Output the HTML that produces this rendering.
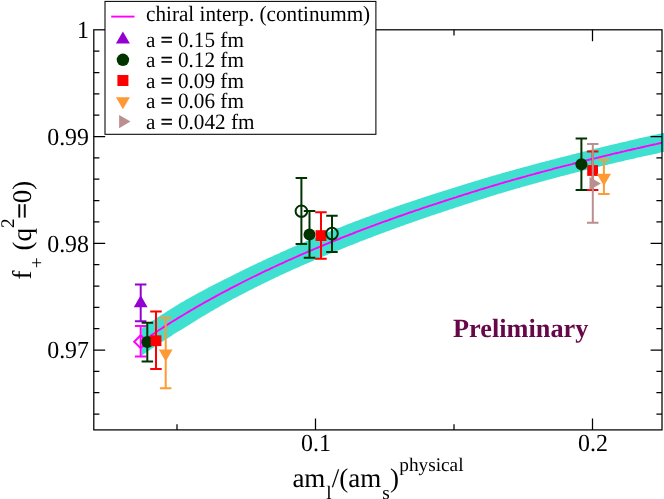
<!DOCTYPE html>
<html><head><meta charset="utf-8"><title>chart</title>
<style>html,body{margin:0;padding:0;background:#fff;}body{width:664px;height:499px;position:relative;overflow:hidden;font-family:"Liberation Serif",serif;}</style>
</head><body><div style="position:absolute;left:0;top:0;width:664px;height:499px;will-change:transform">
<svg width="664" height="499" viewBox="0 0 664 499" style="position:absolute;left:0;top:0">
<rect x="0" y="0" width="664" height="499" fill="#fff"/>
<defs><clipPath id="pc"><rect x="93.8" y="29.8" width="568.2" height="400.1"/></clipPath></defs>
<path d="M141.90 327.53 L141.90 327.53 L143.10 327.53 L143.10 326.70 L144.30 326.70 L144.30 325.88 L145.50 325.88 L145.50 325.06 L146.70 325.06 L146.70 324.24 L147.90 324.24 L147.90 323.43 L149.10 323.43 L149.10 322.62 L150.30 322.62 L150.30 321.82 L151.50 321.82 L151.50 321.02 L152.70 321.02 L152.70 320.22 L153.90 320.22 L153.90 319.43 L155.10 319.43 L155.10 318.64 L156.30 318.64 L156.30 317.85 L157.50 317.85 L157.50 317.07 L158.70 317.07 L158.70 316.29 L159.90 316.29 L159.90 315.52 L161.10 315.52 L161.10 314.75 L162.30 314.75 L162.30 313.98 L163.50 313.98 L163.50 313.21 L164.70 313.21 L164.70 312.45 L165.90 312.45 L165.90 311.69 L167.10 311.69 L167.10 310.94 L168.30 310.94 L168.30 310.18 L169.50 310.18 L169.50 309.43 L170.70 309.43 L170.70 308.69 L171.90 308.69 L171.90 307.95 L173.10 307.95 L173.10 307.21 L174.30 307.21 L174.30 306.47 L175.50 306.47 L175.50 305.74 L176.70 305.74 L176.70 305.00 L177.90 305.00 L177.90 304.28 L179.10 304.28 L179.10 303.55 L180.30 303.55 L180.30 302.83 L181.50 302.83 L181.50 302.11 L182.70 302.11 L182.70 301.40 L183.90 301.40 L183.90 300.68 L185.10 300.68 L185.10 299.99 L186.30 299.99 L186.30 299.31 L187.50 299.31 L187.50 298.64 L188.70 298.64 L188.70 297.97 L189.90 297.97 L189.90 297.30 L191.10 297.30 L191.10 296.64 L192.30 296.64 L192.30 295.97 L193.50 295.97 L193.50 295.31 L194.70 295.31 L194.70 294.66 L195.90 294.66 L195.90 294.00 L197.10 294.00 L197.10 293.35 L198.30 293.35 L198.30 292.70 L199.50 292.70 L199.50 292.05 L200.70 292.05 L200.70 291.41 L201.90 291.41 L201.90 290.77 L203.10 290.77 L203.10 290.13 L204.30 290.13 L204.30 289.49 L205.50 289.49 L205.50 288.86 L206.70 288.86 L206.70 288.22 L207.90 288.22 L207.90 287.59 L209.10 287.59 L209.10 286.97 L210.30 286.97 L210.30 286.34 L211.50 286.34 L211.50 285.72 L212.70 285.72 L212.70 285.10 L213.90 285.10 L213.90 284.48 L215.10 284.48 L215.10 283.87 L216.30 283.87 L216.30 283.25 L217.50 283.25 L217.50 282.64 L218.70 282.64 L218.70 282.03 L219.90 282.03 L219.90 281.43 L221.10 281.43 L221.10 280.82 L222.30 280.82 L222.30 280.22 L223.50 280.22 L223.50 279.62 L224.70 279.62 L224.70 279.02 L225.90 279.02 L225.90 278.43 L227.10 278.43 L227.10 277.83 L228.30 277.83 L228.30 277.24 L229.50 277.24 L229.50 276.65 L230.70 276.65 L230.70 276.04 L231.90 276.04 L231.90 275.43 L233.10 275.43 L233.10 274.82 L234.30 274.82 L234.30 274.22 L235.50 274.22 L235.50 273.61 L236.70 273.61 L236.70 273.01 L237.90 273.01 L237.90 272.41 L239.10 272.41 L239.10 271.81 L240.30 271.81 L240.30 271.22 L241.50 271.22 L241.50 270.63 L242.70 270.63 L242.70 270.03 L243.90 270.03 L243.90 269.44 L245.10 269.44 L245.10 268.86 L246.30 268.86 L246.30 268.27 L247.50 268.27 L247.50 267.69 L248.70 267.69 L248.70 267.11 L249.90 267.11 L249.90 266.53 L251.10 266.53 L251.10 265.95 L252.30 265.95 L252.30 265.37 L253.50 265.37 L253.50 264.80 L254.70 264.80 L254.70 264.23 L255.90 264.23 L255.90 263.66 L257.10 263.66 L257.10 263.09 L258.30 263.09 L258.30 262.52 L259.50 262.52 L259.50 261.95 L260.70 261.95 L260.70 261.39 L261.90 261.39 L261.90 260.83 L263.10 260.83 L263.10 260.27 L264.30 260.27 L264.30 259.71 L265.50 259.71 L265.50 259.16 L266.70 259.16 L266.70 258.60 L267.90 258.60 L267.90 258.05 L269.10 258.05 L269.10 257.50 L270.30 257.50 L270.30 256.95 L271.50 256.95 L271.50 256.40 L272.70 256.40 L272.70 255.85 L273.90 255.85 L273.90 255.31 L275.10 255.31 L275.10 254.77 L276.30 254.77 L276.30 254.23 L277.50 254.23 L277.50 253.69 L278.70 253.69 L278.70 253.15 L279.90 253.15 L279.90 252.61 L281.10 252.61 L281.10 252.06 L282.30 252.06 L282.30 251.52 L283.50 251.52 L283.50 250.98 L284.70 250.98 L284.70 250.44 L285.90 250.44 L285.90 249.90 L287.10 249.90 L287.10 249.36 L288.30 249.36 L288.30 248.82 L289.50 248.82 L289.50 248.29 L290.70 248.29 L290.70 247.76 L291.90 247.76 L291.90 247.22 L293.10 247.22 L293.10 246.69 L294.30 246.69 L294.30 246.17 L295.50 246.17 L295.50 245.64 L296.70 245.64 L296.70 245.11 L297.90 245.11 L297.90 244.59 L299.10 244.59 L299.10 244.07 L300.30 244.07 L300.30 243.55 L301.50 243.55 L301.50 243.03 L302.70 243.03 L302.70 242.51 L303.90 242.51 L303.90 241.99 L305.10 241.99 L305.10 241.48 L306.30 241.48 L306.30 240.96 L307.50 240.96 L307.50 240.45 L308.70 240.45 L308.70 239.94 L309.90 239.94 L309.90 239.43 L311.10 239.43 L311.10 238.92 L312.30 238.92 L312.30 238.42 L313.50 238.42 L313.50 237.91 L314.70 237.91 L314.70 237.41 L315.90 237.41 L315.90 236.91 L317.10 236.91 L317.10 236.41 L318.30 236.41 L318.30 235.91 L319.50 235.91 L319.50 235.41 L320.70 235.41 L320.70 234.91 L321.90 234.91 L321.90 234.42 L323.10 234.42 L323.10 233.92 L324.30 233.92 L324.30 233.43 L325.50 233.43 L325.50 232.94 L326.70 232.94 L326.70 232.45 L327.90 232.45 L327.90 231.96 L329.10 231.96 L329.10 231.48 L330.30 231.48 L330.30 230.99 L331.50 230.99 L331.50 230.51 L332.70 230.51 L332.70 230.02 L333.90 230.02 L333.90 229.54 L335.10 229.54 L335.10 229.06 L336.30 229.06 L336.30 228.58 L337.50 228.58 L337.50 228.10 L338.70 228.10 L338.70 227.63 L339.90 227.63 L339.90 227.15 L341.10 227.15 L341.10 226.68 L342.30 226.68 L342.30 226.20 L343.50 226.20 L343.50 225.73 L344.70 225.73 L344.70 225.26 L345.90 225.26 L345.90 224.79 L347.10 224.79 L347.10 224.32 L348.30 224.32 L348.30 223.86 L349.50 223.86 L349.50 223.39 L350.70 223.39 L350.70 222.93 L351.90 222.93 L351.90 222.48 L353.10 222.48 L353.10 222.02 L354.30 222.02 L354.30 221.56 L355.50 221.56 L355.50 221.11 L356.70 221.11 L356.70 220.66 L357.90 220.66 L357.90 220.20 L359.10 220.20 L359.10 219.75 L360.30 219.75 L360.30 219.30 L361.50 219.30 L361.50 218.86 L362.70 218.86 L362.70 218.41 L363.90 218.41 L363.90 217.96 L365.10 217.96 L365.10 217.52 L366.30 217.52 L366.30 217.07 L367.50 217.07 L367.50 216.63 L368.70 216.63 L368.70 216.19 L369.90 216.19 L369.90 215.75 L371.10 215.75 L371.10 215.31 L372.30 215.31 L372.30 214.87 L373.50 214.87 L373.50 214.44 L374.70 214.44 L374.70 214.00 L375.90 214.00 L375.90 213.57 L377.10 213.57 L377.10 213.13 L378.30 213.13 L378.30 212.70 L379.50 212.70 L379.50 212.27 L380.70 212.27 L380.70 211.84 L381.90 211.84 L381.90 211.41 L383.10 211.41 L383.10 210.98 L384.30 210.98 L384.30 210.56 L385.50 210.56 L385.50 210.13 L386.70 210.13 L386.70 209.70 L387.90 209.70 L387.90 209.28 L389.10 209.28 L389.10 208.86 L390.30 208.86 L390.30 208.44 L391.50 208.44 L391.50 208.02 L392.70 208.02 L392.70 207.60 L393.90 207.60 L393.90 207.18 L395.10 207.18 L395.10 206.76 L396.30 206.76 L396.30 206.35 L397.50 206.35 L397.50 205.93 L398.70 205.93 L398.70 205.52 L399.90 205.52 L399.90 205.10 L401.10 205.10 L401.10 204.69 L402.30 204.69 L402.30 204.28 L403.50 204.28 L403.50 203.87 L404.70 203.87 L404.70 203.46 L405.90 203.46 L405.90 203.05 L407.10 203.05 L407.10 202.65 L408.30 202.65 L408.30 202.24 L409.50 202.24 L409.50 201.83 L410.70 201.83 L410.70 201.43 L411.90 201.43 L411.90 201.03 L413.10 201.03 L413.10 200.63 L414.30 200.63 L414.30 200.22 L415.50 200.22 L415.50 199.82 L416.70 199.82 L416.70 199.43 L417.90 199.43 L417.90 199.03 L419.10 199.03 L419.10 198.63 L420.30 198.63 L420.30 198.24 L421.50 198.24 L421.50 197.84 L422.70 197.84 L422.70 197.45 L423.90 197.45 L423.90 197.06 L425.10 197.06 L425.10 196.66 L426.30 196.66 L426.30 196.27 L427.50 196.27 L427.50 195.89 L428.70 195.89 L428.70 195.50 L429.90 195.50 L429.90 195.11 L431.10 195.11 L431.10 194.72 L432.30 194.72 L432.30 194.34 L433.50 194.34 L433.50 193.95 L434.70 193.95 L434.70 193.57 L435.90 193.57 L435.90 193.19 L437.10 193.19 L437.10 192.80 L438.30 192.80 L438.30 192.42 L439.50 192.42 L439.50 192.04 L440.70 192.04 L440.70 191.66 L441.90 191.66 L441.90 191.29 L443.10 191.29 L443.10 190.91 L444.30 190.91 L444.30 190.53 L445.50 190.53 L445.50 190.16 L446.70 190.16 L446.70 189.78 L447.90 189.78 L447.90 189.41 L449.10 189.41 L449.10 189.04 L450.30 189.04 L450.30 188.66 L451.50 188.66 L451.50 188.28 L452.70 188.28 L452.70 187.90 L453.90 187.90 L453.90 187.52 L455.10 187.52 L455.10 187.14 L456.30 187.14 L456.30 186.77 L457.50 186.77 L457.50 186.39 L458.70 186.39 L458.70 186.02 L459.90 186.02 L459.90 185.64 L461.10 185.64 L461.10 185.27 L462.30 185.27 L462.30 184.90 L463.50 184.90 L463.50 184.53 L464.70 184.53 L464.70 184.16 L465.90 184.16 L465.90 183.79 L467.10 183.79 L467.10 183.42 L468.30 183.42 L468.30 183.05 L469.50 183.05 L469.50 182.69 L470.70 182.69 L470.70 182.32 L471.90 182.32 L471.90 181.96 L473.10 181.96 L473.10 181.59 L474.30 181.59 L474.30 181.23 L475.50 181.23 L475.50 180.87 L476.70 180.87 L476.70 180.50 L477.90 180.50 L477.90 180.14 L479.10 180.14 L479.10 179.78 L480.30 179.78 L480.30 179.42 L481.50 179.42 L481.50 179.06 L482.70 179.06 L482.70 178.71 L483.90 178.71 L483.90 178.35 L485.10 178.35 L485.10 177.99 L486.30 177.99 L486.30 177.64 L487.50 177.64 L487.50 177.28 L488.70 177.28 L488.70 176.93 L489.90 176.93 L489.90 176.58 L491.10 176.58 L491.10 176.22 L492.30 176.22 L492.30 175.87 L493.50 175.87 L493.50 175.52 L494.70 175.52 L494.70 175.17 L495.90 175.17 L495.90 174.82 L497.10 174.82 L497.10 174.48 L498.30 174.48 L498.30 174.13 L499.50 174.13 L499.50 173.78 L500.70 173.78 L500.70 173.44 L501.90 173.44 L501.90 173.10 L503.10 173.10 L503.10 172.76 L504.30 172.76 L504.30 172.42 L505.50 172.42 L505.50 172.08 L506.70 172.08 L506.70 171.75 L507.90 171.75 L507.90 171.41 L509.10 171.41 L509.10 171.07 L510.30 171.07 L510.30 170.74 L511.50 170.74 L511.50 170.41 L512.70 170.41 L512.70 170.07 L513.90 170.07 L513.90 169.74 L515.10 169.74 L515.10 169.41 L516.30 169.41 L516.30 169.08 L517.50 169.08 L517.50 168.75 L518.70 168.75 L518.70 168.42 L519.90 168.42 L519.90 168.09 L521.10 168.09 L521.10 167.76 L522.30 167.76 L522.30 167.43 L523.50 167.43 L523.50 167.10 L524.70 167.10 L524.70 166.78 L525.90 166.78 L525.90 166.45 L527.10 166.45 L527.10 166.13 L528.30 166.13 L528.30 165.80 L529.50 165.80 L529.50 165.48 L530.70 165.48 L530.70 165.16 L531.90 165.16 L531.90 164.84 L533.10 164.84 L533.10 164.52 L534.30 164.52 L534.30 164.19 L535.50 164.19 L535.50 163.87 L536.70 163.87 L536.70 163.56 L537.90 163.56 L537.90 163.24 L539.10 163.24 L539.10 162.92 L540.30 162.92 L540.30 162.60 L541.50 162.60 L541.50 162.29 L542.70 162.29 L542.70 161.97 L543.90 161.97 L543.90 161.66 L545.10 161.66 L545.10 161.34 L546.30 161.34 L546.30 161.03 L547.50 161.03 L547.50 160.72 L548.70 160.72 L548.70 160.40 L549.90 160.40 L549.90 160.09 L551.10 160.09 L551.10 159.78 L552.30 159.78 L552.30 159.47 L553.50 159.47 L553.50 159.16 L554.70 159.16 L554.70 158.85 L555.90 158.85 L555.90 158.55 L557.10 158.55 L557.10 158.24 L558.30 158.24 L558.30 157.93 L559.50 157.93 L559.50 157.62 L560.70 157.62 L560.70 157.31 L561.90 157.31 L561.90 157.00 L563.10 157.00 L563.10 156.69 L564.30 156.69 L564.30 156.38 L565.50 156.38 L565.50 156.07 L566.70 156.07 L566.70 155.76 L567.90 155.76 L567.90 155.46 L569.10 155.46 L569.10 155.15 L570.30 155.15 L570.30 154.84 L571.50 154.84 L571.50 154.54 L572.70 154.54 L572.70 154.23 L573.90 154.23 L573.90 153.93 L575.10 153.93 L575.10 153.63 L576.30 153.63 L576.30 153.32 L577.50 153.32 L577.50 153.02 L578.70 153.02 L578.70 152.72 L579.90 152.72 L579.90 152.42 L581.10 152.42 L581.10 152.12 L582.30 152.12 L582.30 151.82 L583.50 151.82 L583.50 151.52 L584.70 151.52 L584.70 151.22 L585.90 151.22 L585.90 150.92 L587.10 150.92 L587.10 150.62 L588.30 150.62 L588.30 150.33 L589.50 150.33 L589.50 150.03 L590.70 150.03 L590.70 149.73 L591.90 149.73 L591.90 149.44 L593.10 149.44 L593.10 149.14 L594.30 149.14 L594.30 148.85 L595.50 148.85 L595.50 148.56 L596.70 148.56 L596.70 148.26 L597.90 148.26 L597.90 147.97 L599.10 147.97 L599.10 147.68 L600.30 147.68 L600.30 147.39 L601.50 147.39 L601.50 147.10 L602.70 147.10 L602.70 146.81 L603.90 146.81 L603.90 146.52 L605.10 146.52 L605.10 146.23 L606.30 146.23 L606.30 145.95 L607.50 145.95 L607.50 145.66 L608.70 145.66 L608.70 145.37 L609.90 145.37 L609.90 145.09 L611.10 145.09 L611.10 144.80 L612.30 144.80 L612.30 144.52 L613.50 144.52 L613.50 144.23 L614.70 144.23 L614.70 143.95 L615.90 143.95 L615.90 143.66 L617.10 143.66 L617.10 143.38 L618.30 143.38 L618.30 143.10 L619.50 143.10 L619.50 142.82 L620.70 142.82 L620.70 142.54 L621.90 142.54 L621.90 142.26 L623.10 142.26 L623.10 141.98 L624.30 141.98 L624.30 141.70 L625.50 141.70 L625.50 141.42 L626.70 141.42 L626.70 141.14 L627.90 141.14 L627.90 140.87 L629.10 140.87 L629.10 140.58 L630.30 140.58 L630.30 140.30 L631.50 140.30 L631.50 140.02 L632.70 140.02 L632.70 139.74 L633.90 139.74 L633.90 139.46 L635.10 139.46 L635.10 139.18 L636.30 139.18 L636.30 138.90 L637.50 138.90 L637.50 138.62 L638.70 138.62 L638.70 138.34 L639.90 138.34 L639.90 138.06 L641.10 138.06 L641.10 137.79 L642.30 137.79 L642.30 137.51 L643.50 137.51 L643.50 137.23 L644.70 137.23 L644.70 136.96 L645.90 136.96 L645.90 136.68 L647.10 136.68 L647.10 136.41 L648.30 136.41 L648.30 136.14 L649.50 136.14 L649.50 135.86 L650.70 135.86 L650.70 135.59 L651.90 135.59 L651.90 135.32 L653.10 135.32 L653.10 135.04 L654.30 135.04 L654.30 134.77 L655.50 134.77 L655.50 134.50 L656.70 134.50 L656.70 134.23 L657.90 134.23 L657.90 133.96 L659.10 133.96 L659.10 133.69 L660.30 133.69 L660.30 133.43 L661.50 133.43 L661.50 133.16 L662.70 133.16 L662.70 132.89 L663.90 132.89 L663.90 132.62 L665.10 132.62 L665.10 132.36 L666.30 132.36 L666.30 151.56 L665.10 151.56 L665.10 151.82 L663.90 151.82 L663.90 152.08 L662.70 152.08 L662.70 152.34 L661.50 152.34 L661.50 152.60 L660.30 152.60 L660.30 152.86 L659.10 152.86 L659.10 153.12 L657.90 153.12 L657.90 153.38 L656.70 153.38 L656.70 153.64 L655.50 153.64 L655.50 153.90 L654.30 153.90 L654.30 154.16 L653.10 154.16 L653.10 154.42 L651.90 154.42 L651.90 154.68 L650.70 154.68 L650.70 154.94 L649.50 154.94 L649.50 155.21 L648.30 155.21 L648.30 155.47 L647.10 155.47 L647.10 155.73 L645.90 155.73 L645.90 156.00 L644.70 156.00 L644.70 156.26 L643.50 156.26 L643.50 156.53 L642.30 156.53 L642.30 156.80 L641.10 156.80 L641.10 157.06 L639.90 157.06 L639.90 157.33 L638.70 157.33 L638.70 157.60 L637.50 157.60 L637.50 157.87 L636.30 157.87 L636.30 158.14 L635.10 158.14 L635.10 158.41 L633.90 158.41 L633.90 158.68 L632.70 158.68 L632.70 158.95 L631.50 158.95 L631.50 159.22 L630.30 159.22 L630.30 159.49 L629.10 159.49 L629.10 159.77 L627.90 159.77 L627.90 160.04 L626.70 160.04 L626.70 160.32 L625.50 160.32 L625.50 160.60 L624.30 160.60 L624.30 160.89 L623.10 160.89 L623.10 161.17 L621.90 161.17 L621.90 161.45 L620.70 161.45 L620.70 161.73 L619.50 161.73 L619.50 162.01 L618.30 162.01 L618.30 162.30 L617.10 162.30 L617.10 162.58 L615.90 162.58 L615.90 162.87 L614.70 162.87 L614.70 163.15 L613.50 163.15 L613.50 163.44 L612.30 163.44 L612.30 163.73 L611.10 163.73 L611.10 164.01 L609.90 164.01 L609.90 164.30 L608.70 164.30 L608.70 164.59 L607.50 164.59 L607.50 164.88 L606.30 164.88 L606.30 165.17 L605.10 165.17 L605.10 165.46 L603.90 165.46 L603.90 165.75 L602.70 165.75 L602.70 166.04 L601.50 166.04 L601.50 166.33 L600.30 166.33 L600.30 166.62 L599.10 166.62 L599.10 166.92 L597.90 166.92 L597.90 167.21 L596.70 167.21 L596.70 167.50 L595.50 167.50 L595.50 167.80 L594.30 167.80 L594.30 168.10 L593.10 168.10 L593.10 168.39 L591.90 168.39 L591.90 168.69 L590.70 168.69 L590.70 168.99 L589.50 168.99 L589.50 169.28 L588.30 169.28 L588.30 169.58 L587.10 169.58 L587.10 169.88 L585.90 169.88 L585.90 170.18 L584.70 170.18 L584.70 170.48 L583.50 170.48 L583.50 170.78 L582.30 170.78 L582.30 171.08 L581.10 171.08 L581.10 171.39 L579.90 171.39 L579.90 171.69 L578.70 171.69 L578.70 171.99 L577.50 171.99 L577.50 172.30 L576.30 172.30 L576.30 172.60 L575.10 172.60 L575.10 172.91 L573.90 172.91 L573.90 173.21 L572.70 173.21 L572.70 173.52 L571.50 173.52 L571.50 173.83 L570.30 173.83 L570.30 174.14 L569.10 174.14 L569.10 174.44 L567.90 174.44 L567.90 174.75 L566.70 174.75 L566.70 175.06 L565.50 175.06 L565.50 175.38 L564.30 175.38 L564.30 175.69 L563.10 175.69 L563.10 176.00 L561.90 176.00 L561.90 176.31 L560.70 176.31 L560.70 176.62 L559.50 176.62 L559.50 176.94 L558.30 176.94 L558.30 177.26 L557.10 177.26 L557.10 177.59 L555.90 177.59 L555.90 177.91 L554.70 177.91 L554.70 178.23 L553.50 178.23 L553.50 178.55 L552.30 178.55 L552.30 178.88 L551.10 178.88 L551.10 179.20 L549.90 179.20 L549.90 179.53 L548.70 179.53 L548.70 179.85 L547.50 179.85 L547.50 180.18 L546.30 180.18 L546.30 180.51 L545.10 180.51 L545.10 180.84 L543.90 180.84 L543.90 181.17 L542.70 181.17 L542.70 181.50 L541.50 181.50 L541.50 181.83 L540.30 181.83 L540.30 182.16 L539.10 182.16 L539.10 182.49 L537.90 182.49 L537.90 182.82 L536.70 182.82 L536.70 183.15 L535.50 183.15 L535.50 183.49 L534.30 183.49 L534.30 183.82 L533.10 183.82 L533.10 184.16 L531.90 184.16 L531.90 184.49 L530.70 184.49 L530.70 184.83 L529.50 184.83 L529.50 185.17 L528.30 185.17 L528.30 185.50 L527.10 185.50 L527.10 185.84 L525.90 185.84 L525.90 186.18 L524.70 186.18 L524.70 186.52 L523.50 186.52 L523.50 186.86 L522.30 186.86 L522.30 187.21 L521.10 187.21 L521.10 187.55 L519.90 187.55 L519.90 187.89 L518.70 187.89 L518.70 188.23 L517.50 188.23 L517.50 188.58 L516.30 188.58 L516.30 188.92 L515.10 188.92 L515.10 189.27 L513.90 189.27 L513.90 189.62 L512.70 189.62 L512.70 189.96 L511.50 189.96 L511.50 190.31 L510.30 190.31 L510.30 190.66 L509.10 190.66 L509.10 191.01 L507.90 191.01 L507.90 191.36 L506.70 191.36 L506.70 191.71 L505.50 191.71 L505.50 192.07 L504.30 192.07 L504.30 192.42 L503.10 192.42 L503.10 192.77 L501.90 192.77 L501.90 193.13 L500.70 193.13 L500.70 193.48 L499.50 193.48 L499.50 193.85 L498.30 193.85 L498.30 194.22 L497.10 194.22 L497.10 194.59 L495.90 194.59 L495.90 194.96 L494.70 194.96 L494.70 195.33 L493.50 195.33 L493.50 195.70 L492.30 195.70 L492.30 196.07 L491.10 196.07 L491.10 196.44 L489.90 196.44 L489.90 196.82 L488.70 196.82 L488.70 197.19 L487.50 197.19 L487.50 197.57 L486.30 197.57 L486.30 197.94 L485.10 197.94 L485.10 198.32 L483.90 198.32 L483.90 198.70 L482.70 198.70 L482.70 199.08 L481.50 199.08 L481.50 199.46 L480.30 199.46 L480.30 199.84 L479.10 199.84 L479.10 200.22 L477.90 200.22 L477.90 200.60 L476.70 200.60 L476.70 200.98 L475.50 200.98 L475.50 201.37 L474.30 201.37 L474.30 201.75 L473.10 201.75 L473.10 202.14 L471.90 202.14 L471.90 202.52 L470.70 202.52 L470.70 202.91 L469.50 202.91 L469.50 203.30 L468.30 203.30 L468.30 203.69 L467.10 203.69 L467.10 204.08 L465.90 204.08 L465.90 204.47 L464.70 204.47 L464.70 204.86 L463.50 204.86 L463.50 205.25 L462.30 205.25 L462.30 205.64 L461.10 205.64 L461.10 206.04 L459.90 206.04 L459.90 206.43 L458.70 206.43 L458.70 206.83 L457.50 206.83 L457.50 207.22 L456.30 207.22 L456.30 207.62 L455.10 207.62 L455.10 208.02 L453.90 208.02 L453.90 208.42 L452.70 208.42 L452.70 208.82 L451.50 208.82 L451.50 209.22 L450.30 209.22 L450.30 209.62 L449.10 209.62 L449.10 210.01 L447.90 210.01 L447.90 210.40 L446.70 210.40 L446.70 210.80 L445.50 210.80 L445.50 211.20 L444.30 211.20 L444.30 211.59 L443.10 211.59 L443.10 211.99 L441.90 211.99 L441.90 212.39 L440.70 212.39 L440.70 212.79 L439.50 212.79 L439.50 213.19 L438.30 213.19 L438.30 213.59 L437.10 213.59 L437.10 214.00 L435.90 214.00 L435.90 214.40 L434.70 214.40 L434.70 214.81 L433.50 214.81 L433.50 215.21 L432.30 215.21 L432.30 215.62 L431.10 215.62 L431.10 216.03 L429.90 216.03 L429.90 216.43 L428.70 216.43 L428.70 216.84 L427.50 216.84 L427.50 217.25 L426.30 217.25 L426.30 217.67 L425.10 217.67 L425.10 218.08 L423.90 218.08 L423.90 218.49 L422.70 218.49 L422.70 218.90 L421.50 218.90 L421.50 219.32 L420.30 219.32 L420.30 219.74 L419.10 219.74 L419.10 220.15 L417.90 220.15 L417.90 220.57 L416.70 220.57 L416.70 220.99 L415.50 220.99 L415.50 221.41 L414.30 221.41 L414.30 221.82 L413.10 221.82 L413.10 222.25 L411.90 222.25 L411.90 222.67 L410.70 222.67 L410.70 223.09 L409.50 223.09 L409.50 223.51 L408.30 223.51 L408.30 223.94 L407.10 223.94 L407.10 224.36 L405.90 224.36 L405.90 224.79 L404.70 224.79 L404.70 225.22 L403.50 225.22 L403.50 225.65 L402.30 225.65 L402.30 226.08 L401.10 226.08 L401.10 226.51 L399.90 226.51 L399.90 226.94 L398.70 226.94 L398.70 227.37 L397.50 227.37 L397.50 227.81 L396.30 227.81 L396.30 228.24 L395.10 228.24 L395.10 228.68 L393.90 228.68 L393.90 229.12 L392.70 229.12 L392.70 229.55 L391.50 229.55 L391.50 229.99 L390.30 229.99 L390.30 230.43 L389.10 230.43 L389.10 230.88 L387.90 230.88 L387.90 231.32 L386.70 231.32 L386.70 231.76 L385.50 231.76 L385.50 232.21 L384.30 232.21 L384.30 232.65 L383.10 232.65 L383.10 233.10 L381.90 233.10 L381.90 233.55 L380.70 233.55 L380.70 234.00 L379.50 234.00 L379.50 234.45 L378.30 234.45 L378.30 234.90 L377.10 234.90 L377.10 235.35 L375.90 235.35 L375.90 235.80 L374.70 235.80 L374.70 236.26 L373.50 236.26 L373.50 236.71 L372.30 236.71 L372.30 237.17 L371.10 237.17 L371.10 237.63 L369.90 237.63 L369.90 238.09 L368.70 238.09 L368.70 238.55 L367.50 238.55 L367.50 239.01 L366.30 239.01 L366.30 239.47 L365.10 239.47 L365.10 239.93 L363.90 239.93 L363.90 240.40 L362.70 240.40 L362.70 240.87 L361.50 240.87 L361.50 241.33 L360.30 241.33 L360.30 241.80 L359.10 241.80 L359.10 242.27 L357.90 242.27 L357.90 242.74 L356.70 242.74 L356.70 243.21 L355.50 243.21 L355.50 243.69 L354.30 243.69 L354.30 244.16 L353.10 244.16 L353.10 244.64 L351.90 244.64 L351.90 245.11 L350.70 245.11 L350.70 245.59 L349.50 245.59 L349.50 246.07 L348.30 246.07 L348.30 246.54 L347.10 246.54 L347.10 247.02 L345.90 247.02 L345.90 247.49 L344.70 247.49 L344.70 247.97 L343.50 247.97 L343.50 248.45 L342.30 248.45 L342.30 248.94 L341.10 248.94 L341.10 249.42 L339.90 249.42 L339.90 249.90 L338.70 249.90 L338.70 250.39 L337.50 250.39 L337.50 250.87 L336.30 250.87 L336.30 251.36 L335.10 251.36 L335.10 251.85 L333.90 251.85 L333.90 252.34 L332.70 252.34 L332.70 252.83 L331.50 252.83 L331.50 253.33 L330.30 253.33 L330.30 253.82 L329.10 253.82 L329.10 254.32 L327.90 254.32 L327.90 254.81 L326.70 254.81 L326.70 255.31 L325.50 255.31 L325.50 255.81 L324.30 255.81 L324.30 256.31 L323.10 256.31 L323.10 256.81 L321.90 256.81 L321.90 257.32 L320.70 257.32 L320.70 257.82 L319.50 257.82 L319.50 258.33 L318.30 258.33 L318.30 258.84 L317.10 258.84 L317.10 259.35 L315.90 259.35 L315.90 259.86 L314.70 259.86 L314.70 260.37 L313.50 260.37 L313.50 260.88 L312.30 260.88 L312.30 261.40 L311.10 261.40 L311.10 261.91 L309.90 261.91 L309.90 262.43 L308.70 262.43 L308.70 262.95 L307.50 262.95 L307.50 263.47 L306.30 263.47 L306.30 263.99 L305.10 263.99 L305.10 264.52 L303.90 264.52 L303.90 265.04 L302.70 265.04 L302.70 265.57 L301.50 265.57 L301.50 266.10 L300.30 266.10 L300.30 266.63 L299.10 266.63 L299.10 267.16 L297.90 267.16 L297.90 267.69 L296.70 267.69 L296.70 268.22 L295.50 268.22 L295.50 268.76 L294.30 268.76 L294.30 269.30 L293.10 269.30 L293.10 269.83 L291.90 269.83 L291.90 270.37 L290.70 270.37 L290.70 270.92 L289.50 270.92 L289.50 271.46 L288.30 271.46 L288.30 272.00 L287.10 272.00 L287.10 272.55 L285.90 272.55 L285.90 273.10 L284.70 273.10 L284.70 273.65 L283.50 273.65 L283.50 274.20 L282.30 274.20 L282.30 274.75 L281.10 274.75 L281.10 275.31 L279.90 275.31 L279.90 275.87 L278.70 275.87 L278.70 276.44 L277.50 276.44 L277.50 277.01 L276.30 277.01 L276.30 277.58 L275.10 277.58 L275.10 278.15 L273.90 278.15 L273.90 278.73 L272.70 278.73 L272.70 279.31 L271.50 279.31 L271.50 279.88 L270.30 279.88 L270.30 280.47 L269.10 280.47 L269.10 281.05 L267.90 281.05 L267.90 281.63 L266.70 281.63 L266.70 282.22 L265.50 282.22 L265.50 282.80 L264.30 282.80 L264.30 283.39 L263.10 283.39 L263.10 283.98 L261.90 283.98 L261.90 284.58 L260.70 284.58 L260.70 285.17 L259.50 285.17 L259.50 285.77 L258.30 285.77 L258.30 286.37 L257.10 286.37 L257.10 286.97 L255.90 286.97 L255.90 287.57 L254.70 287.57 L254.70 288.17 L253.50 288.17 L253.50 288.78 L252.30 288.78 L252.30 289.38 L251.10 289.38 L251.10 289.99 L249.90 289.99 L249.90 290.60 L248.70 290.60 L248.70 291.22 L247.50 291.22 L247.50 291.83 L246.30 291.83 L246.30 292.45 L245.10 292.45 L245.10 293.07 L243.90 293.07 L243.90 293.69 L242.70 293.69 L242.70 294.31 L241.50 294.31 L241.50 294.94 L240.30 294.94 L240.30 295.56 L239.10 295.56 L239.10 296.19 L237.90 296.19 L237.90 296.82 L236.70 296.82 L236.70 297.45 L235.50 297.45 L235.50 298.09 L234.30 298.09 L234.30 298.72 L233.10 298.72 L233.10 299.36 L231.90 299.36 L231.90 300.00 L230.70 300.00 L230.70 300.65 L229.50 300.65 L229.50 301.31 L228.30 301.31 L228.30 301.99 L227.10 301.99 L227.10 302.66 L225.90 302.66 L225.90 303.33 L224.70 303.33 L224.70 304.01 L223.50 304.01 L223.50 304.69 L222.30 304.69 L222.30 305.37 L221.10 305.37 L221.10 306.06 L219.90 306.06 L219.90 306.75 L218.70 306.75 L218.70 307.43 L217.50 307.43 L217.50 308.13 L216.30 308.13 L216.30 308.82 L215.10 308.82 L215.10 309.51 L213.90 309.51 L213.90 310.21 L212.70 310.21 L212.70 310.91 L211.50 310.91 L211.50 311.62 L210.30 311.62 L210.30 312.32 L209.10 312.32 L209.10 313.03 L207.90 313.03 L207.90 313.74 L206.70 313.74 L206.70 314.45 L205.50 314.45 L205.50 315.16 L204.30 315.16 L204.30 315.88 L203.10 315.88 L203.10 316.60 L201.90 316.60 L201.90 317.32 L200.70 317.32 L200.70 318.05 L199.50 318.05 L199.50 318.77 L198.30 318.77 L198.30 319.50 L197.10 319.50 L197.10 320.24 L195.90 320.24 L195.90 320.97 L194.70 320.97 L194.70 321.71 L193.50 321.71 L193.50 322.45 L192.30 322.45 L192.30 323.19 L191.10 323.19 L191.10 323.94 L189.90 323.94 L189.90 324.68 L188.70 324.68 L188.70 325.43 L187.50 325.43 L187.50 326.19 L186.30 326.19 L186.30 326.94 L185.10 326.94 L185.10 327.69 L183.90 327.69 L183.90 328.42 L182.70 328.42 L182.70 329.15 L181.50 329.15 L181.50 329.89 L180.30 329.89 L180.30 330.63 L179.10 330.63 L179.10 331.37 L177.90 331.37 L177.90 332.11 L176.70 332.11 L176.70 332.86 L175.50 332.86 L175.50 333.61 L174.30 333.61 L174.30 334.36 L173.10 334.36 L173.10 335.12 L171.90 335.12 L171.90 335.88 L170.70 335.88 L170.70 336.64 L169.50 336.64 L169.50 337.41 L168.30 337.41 L168.30 338.18 L167.10 338.18 L167.10 338.95 L165.90 338.95 L165.90 339.73 L164.70 339.73 L164.70 340.50 L163.50 340.50 L163.50 341.29 L162.30 341.29 L162.30 342.07 L161.10 342.07 L161.10 342.86 L159.90 342.86 L159.90 343.65 L158.70 343.65 L158.70 344.45 L157.50 344.45 L157.50 345.25 L156.30 345.25 L156.30 346.05 L155.10 346.05 L155.10 346.85 L153.90 346.85 L153.90 347.66 L152.70 347.66 L152.70 348.48 L151.50 348.48 L151.50 349.29 L150.30 349.29 L150.30 350.12 L149.10 350.12 L149.10 350.94 L147.90 350.94 L147.90 351.77 L146.70 351.77 L146.70 352.60 L145.50 352.60 L145.50 353.44 L144.30 353.44 L144.30 354.27 L143.10 354.27 L143.10 355.12 L141.90 355.12Z" fill="#40e0d0"/>
<path d="M142.0 341.7 L144.0 340.3 L146.0 338.9 L148.0 337.5 L150.0 336.2 L152.0 334.8 L154.0 333.5 L156.0 332.1 L158.0 330.8 L160.0 329.5 L162.0 328.2 L164.0 326.9 L166.0 325.6 L168.0 324.4 L170.0 323.1 L172.0 321.8 L174.0 320.6 L176.0 319.4 L178.0 318.1 L180.0 316.9 L182.0 315.7 L184.0 314.5 L186.0 313.3 L188.0 312.1 L190.0 310.9 L192.0 309.7 L194.0 308.6 L196.0 307.4 L198.0 306.3 L200.0 305.1 L202.0 304.0 L204.0 302.8 L206.0 301.7 L208.0 300.6 L210.0 299.5 L212.0 298.4 L214.0 297.3 L216.0 296.2 L218.0 295.1 L220.0 294.0 L222.0 292.9 L224.0 291.9 L226.0 290.8 L228.0 289.8 L230.0 288.7 L232.0 287.7 L234.0 286.6 L236.0 285.6 L238.0 284.6 L240.0 283.5 L242.0 282.5 L244.0 281.5 L246.0 280.5 L248.0 279.5 L250.0 278.5 L252.0 277.5 L254.0 276.5 L256.0 275.6 L258.0 274.6 L260.0 273.6 L262.0 272.6 L264.0 271.7 L266.0 270.7 L268.0 269.8 L270.0 268.8 L272.0 267.9 L274.0 267.0 L276.0 266.0 L278.0 265.1 L280.0 264.2 L282.0 263.3 L284.0 262.4 L286.0 261.4 L288.0 260.5 L290.0 259.6 L292.0 258.8 L294.0 257.9 L296.0 257.0 L298.0 256.1 L300.0 255.2 L302.0 254.3 L304.0 253.5 L306.0 252.6 L308.0 251.7 L310.0 250.9 L312.0 250.0 L314.0 249.2 L316.0 248.3 L318.0 247.5 L320.0 246.7 L322.0 245.8 L324.0 245.0 L326.0 244.2 L328.0 243.3 L330.0 242.5 L332.0 241.7 L334.0 240.9 L336.0 240.1 L338.0 239.3 L340.0 238.5 L342.0 237.7 L344.0 236.9 L346.0 236.1 L348.0 235.3 L350.0 234.5 L352.0 233.8 L354.0 233.0 L356.0 232.2 L358.0 231.4 L360.0 230.7 L362.0 229.9 L364.0 229.1 L366.0 228.4 L368.0 227.6 L370.0 226.9 L372.0 226.1 L374.0 225.4 L376.0 224.6 L378.0 223.9 L380.0 223.2 L382.0 222.4 L384.0 221.7 L386.0 221.0 L388.0 220.3 L390.0 219.5 L392.0 218.8 L394.0 218.1 L396.0 217.4 L398.0 216.7 L400.0 216.0 L402.0 215.3 L404.0 214.6 L406.0 213.9 L408.0 213.2 L410.0 212.5 L412.0 211.8 L414.0 211.1 L416.0 210.4 L418.0 209.8 L420.0 209.1 L422.0 208.4 L424.0 207.7 L426.0 207.1 L428.0 206.4 L430.0 205.7 L432.0 205.1 L434.0 204.4 L436.0 203.8 L438.0 203.1 L440.0 202.5 L442.0 201.8 L444.0 201.2 L446.0 200.5 L448.0 199.9 L450.0 199.2 L452.0 198.6 L454.0 197.9 L456.0 197.3 L458.0 196.6 L460.0 196.0 L462.0 195.4 L464.0 194.7 L466.0 194.1 L468.0 193.5 L470.0 192.8 L472.0 192.2 L474.0 191.6 L476.0 191.0 L478.0 190.3 L480.0 189.7 L482.0 189.1 L484.0 188.5 L486.0 187.9 L488.0 187.3 L490.0 186.7 L492.0 186.1 L494.0 185.5 L496.0 184.9 L498.0 184.3 L500.0 183.7 L502.0 183.1 L504.0 182.5 L506.0 181.9 L508.0 181.4 L510.0 180.8 L512.0 180.2 L514.0 179.6 L516.0 179.1 L518.0 178.5 L520.0 178.0 L522.0 177.4 L524.0 176.8 L526.0 176.3 L528.0 175.7 L530.0 175.2 L532.0 174.6 L534.0 174.1 L536.0 173.5 L538.0 173.0 L540.0 172.5 L542.0 171.9 L544.0 171.4 L546.0 170.8 L548.0 170.3 L550.0 169.8 L552.0 169.3 L554.0 168.7 L556.0 168.2 L558.0 167.7 L560.0 167.2 L562.0 166.6 L564.0 166.1 L566.0 165.6 L568.0 165.1 L570.0 164.6 L572.0 164.1 L574.0 163.5 L576.0 163.0 L578.0 162.5 L580.0 162.0 L582.0 161.5 L584.0 161.0 L586.0 160.5 L588.0 160.0 L590.0 159.5 L592.0 159.0 L594.0 158.5 L596.0 158.1 L598.0 157.6 L600.0 157.1 L602.0 156.6 L604.0 156.1 L606.0 155.6 L608.0 155.1 L610.0 154.7 L612.0 154.2 L614.0 153.7 L616.0 153.2 L618.0 152.8 L620.0 152.3 L622.0 151.8 L624.0 151.4 L626.0 150.9 L628.0 150.4 L630.0 150.0 L632.0 149.5 L634.0 149.0 L636.0 148.6 L638.0 148.1 L640.0 147.7 L642.0 147.2 L644.0 146.8 L646.0 146.3 L648.0 145.9 L650.0 145.4 L652.0 145.0 L654.0 144.5 L656.0 144.1 L658.0 143.6 L660.0 143.2 L662.0 142.8 L664.0 142.3" fill="none" stroke="#ff00ff" stroke-width="1.9" clip-path="url(#pc)"/>
<g stroke="#000" stroke-width="1.25" fill="none" stroke-linecap="butt">
<rect x="93.8" y="29.8" width="568.2" height="400.1"/>
<path d="M93.8 414.1 h5.6 M662.0 414.1 h-5.6"/>
<path d="M93.8 392.7 h5.6 M662.0 392.7 h-5.6"/>
<path d="M93.8 371.4 h5.6 M662.0 371.4 h-5.6"/>
<path d="M93.8 350.0 h11.4 M662.0 350.0 h-11.4"/>
<path d="M93.8 328.7 h5.6 M662.0 328.7 h-5.6"/>
<path d="M93.8 307.3 h5.6 M662.0 307.3 h-5.6"/>
<path d="M93.8 286.0 h5.6 M662.0 286.0 h-5.6"/>
<path d="M93.8 264.6 h5.6 M662.0 264.6 h-5.6"/>
<path d="M93.8 243.3 h11.4 M662.0 243.3 h-11.4"/>
<path d="M93.8 221.9 h5.6 M662.0 221.9 h-5.6"/>
<path d="M93.8 200.6 h5.6 M662.0 200.6 h-5.6"/>
<path d="M93.8 179.2 h5.6 M662.0 179.2 h-5.6"/>
<path d="M93.8 157.9 h5.6 M662.0 157.9 h-5.6"/>
<path d="M93.8 136.5 h11.4 M662.0 136.5 h-11.4"/>
<path d="M93.8 115.2 h5.6 M662.0 115.2 h-5.6"/>
<path d="M93.8 93.8 h5.6 M662.0 93.8 h-5.6"/>
<path d="M93.8 72.5 h5.6 M662.0 72.5 h-5.6"/>
<path d="M93.8 51.1 h5.6 M662.0 51.1 h-5.6"/>
<path d="M177.0 429.9 v-5.6 M177.0 29.8 v5.6"/>
<path d="M315.5 429.9 v-11.4 M315.5 29.8 v11.4"/>
<path d="M454.0 429.9 v-5.6 M454.0 29.8 v5.6"/>
<path d="M592.5 429.9 v-11.4 M592.5 29.8 v11.4"/>
</g>
<g clip-path="url(#pc)">
<path d="M140.7 326.0 V356.5 M134.9 326.0 h11.5 M134.9 356.5 h11.5" stroke="#ff00ff" stroke-width="2" fill="none"/>
<polygon points="140.7,335.2 147.2,341.7 140.7,348.2 134.2,341.7" fill="none" stroke="#ff00ff" stroke-width="2"/>
<path d="M140.7 284.6 V321.3 M134.9 284.6 h11.5 M134.9 321.3 h11.5" stroke="#9400d3" stroke-width="2" fill="none"/>
<polygon points="140.7,295.3 133.8,307.3 147.6,307.3" fill="#9400d3"/>
<path d="M301.4 178.1 V244.0 M295.6 178.1 h11.5 M295.6 244.0 h11.5" stroke="#003300" stroke-width="2" fill="none"/>
<circle cx="301.4" cy="211.2" r="5.8" fill="none" stroke="#003300" stroke-width="2"/>
<path d="M147.3 322.8 V361.6 M141.6 322.8 h11.5 M141.6 361.6 h11.5" stroke="#003300" stroke-width="2" fill="none"/>
<circle cx="147.3" cy="342.1" r="6.0" fill="#003300"/>
<path d="M309.5 211.0 V257.8 M303.8 211.0 h11.5 M303.8 257.8 h11.5" stroke="#003300" stroke-width="2" fill="none"/>
<circle cx="309.5" cy="234.5" r="6.0" fill="#003300"/>
<path d="M581.4 138.5 V190.0 M575.6 138.5 h11.5 M575.6 190.0 h11.5" stroke="#003300" stroke-width="2" fill="none"/>
<circle cx="581.4" cy="164.2" r="6.0" fill="#003300"/>
<path d="M156.0 311.5 V369.0 M150.2 311.5 h11.5 M150.2 369.0 h11.5" stroke="#ff0000" stroke-width="2" fill="none"/>
<rect x="150.6" y="335.3" width="10.8" height="10.8" fill="#ff0000"/>
<path d="M321.0 212.3 V258.7 M315.2 212.3 h11.5 M315.2 258.7 h11.5" stroke="#ff0000" stroke-width="2" fill="none"/>
<rect x="315.6" y="230.2" width="10.8" height="10.8" fill="#ff0000"/>
<path d="M592.6 151.5 V190.0 M586.9 151.5 h11.5 M586.9 190.0 h11.5" stroke="#ff0000" stroke-width="2" fill="none"/>
<rect x="587.2" y="165.1" width="10.8" height="10.8" fill="#ff0000"/>
<path d="M332.0 215.8 V251.9 M326.2 215.8 h11.5 M326.2 251.9 h11.5" stroke="#003300" stroke-width="2" fill="none"/>
<circle cx="332.0" cy="233.6" r="5.8" fill="none" stroke="#003300" stroke-width="2"/>
<path d="M592.8 144.0 V222.8 M587.0 144.0 h11.5 M587.0 222.8 h11.5" stroke="#bc8f8f" stroke-width="2" fill="none"/>
<polygon points="600.9,183.5 589.5,176.9 589.5,190.1" fill="#bc8f8f"/>
<path d="M165.7 317.8 V388.3 M159.9 317.8 h11.5 M159.9 388.3 h11.5" stroke="#ff9933" stroke-width="2" fill="none"/>
<polygon points="165.7,361.4 158.8,349.4 172.6,349.4" fill="#ff9933"/>
<path d="M603.9 159.7 V194.0 M598.1 159.7 h11.5 M598.1 194.0 h11.5" stroke="#ff9933" stroke-width="2" fill="none"/>
<polygon points="603.9,186.0 596.8,173.7 611.0,173.7" fill="#ff9933"/>
</g>
<rect x="105.0" y="1.4" width="270.9" height="132.9" fill="#fff" stroke="#000" stroke-width="1.05"/>
<path d="M111.2 16.6 H134.5" stroke="#ff00ff" stroke-width="1.9"/>
<polygon points="122.9,31.5 115.9,43.6 129.9,43.6" fill="#9400d3"/>
<circle cx="122.9" cy="59.8" r="6.2" fill="#003300"/>
<rect x="117.4" y="75.0" width="11.0" height="11.0" fill="#ff0000"/>
<polygon points="122.9,109.3 115.9,97.2 129.9,97.2" fill="#ff9933"/>
<polygon points="130.5,121.6 119.1,115.0 119.1,128.2" fill="#bc8f8f"/>
<text transform="translate(146.0,20.9) scale(1,1.03)" style="font-family:'Liberation Serif',serif;fill:#000;text-rendering:geometricPrecision;font-size:21.2px">chiral interp. (continumm)</text>
<text transform="translate(146.0,46.7) scale(1,1.03)" style="font-family:'Liberation Serif',serif;fill:#000;text-rendering:geometricPrecision;font-size:21.2px">a <tspan style="stroke:#000;stroke-width:0.55px">=</tspan> 0.15 fm</text>
<text transform="translate(146.0,67.2) scale(1,1.03)" style="font-family:'Liberation Serif',serif;fill:#000;text-rendering:geometricPrecision;font-size:21.2px">a <tspan style="stroke:#000;stroke-width:0.55px">=</tspan> 0.12 fm</text>
<text transform="translate(146.0,87.6) scale(1,1.03)" style="font-family:'Liberation Serif',serif;fill:#000;text-rendering:geometricPrecision;font-size:21.2px">a <tspan style="stroke:#000;stroke-width:0.55px">=</tspan> 0.09 fm</text>
<text transform="translate(146.0,108.4) scale(1,1.03)" style="font-family:'Liberation Serif',serif;fill:#000;text-rendering:geometricPrecision;font-size:21.2px">a <tspan style="stroke:#000;stroke-width:0.55px">=</tspan> 0.06 fm</text>
<text transform="translate(146.0,128.6) scale(1,1.03)" style="font-family:'Liberation Serif',serif;fill:#000;text-rendering:geometricPrecision;font-size:21.2px">a <tspan style="stroke:#000;stroke-width:0.55px">=</tspan> 0.042 fm</text>
<text transform="translate(89.0,38.0) scale(1,1.03)" text-anchor="end" style="font-family:'Liberation Serif',serif;fill:#000;text-rendering:geometricPrecision;font-size:23.9px">1</text>
<text transform="translate(89.0,144.7) scale(1,1.03)" text-anchor="end" style="font-family:'Liberation Serif',serif;fill:#000;text-rendering:geometricPrecision;font-size:23.9px">0.99</text>
<text transform="translate(89.0,251.5) scale(1,1.03)" text-anchor="end" style="font-family:'Liberation Serif',serif;fill:#000;text-rendering:geometricPrecision;font-size:23.9px">0.98</text>
<text transform="translate(89.0,358.2) scale(1,1.03)" text-anchor="end" style="font-family:'Liberation Serif',serif;fill:#000;text-rendering:geometricPrecision;font-size:23.9px">0.97</text>
<text transform="translate(315.9,451.4) scale(1,1.03)" text-anchor="middle" style="font-family:'Liberation Serif',serif;fill:#000;text-rendering:geometricPrecision;font-size:23.9px">0.1</text>
<text transform="translate(592.9,451.4) scale(1,1.03)" text-anchor="middle" style="font-family:'Liberation Serif',serif;fill:#000;text-rendering:geometricPrecision;font-size:23.9px">0.2</text>
<text x="292.4" y="487.2" style="font-family:'Liberation Serif',serif;fill:#000;text-rendering:geometricPrecision;font-size:27px">am<tspan dx="0.9" dy="11.5" style="font-size:19.3px">l</tspan><tspan dx="0.2" dy="-11.5">/(am</tspan><tspan dx="0.8" dy="11.7" style="font-size:19.3px">s</tspan><tspan dx="0.3" dy="-11.7">)</tspan><tspan dx="0.3" dy="-16.5" style="font-size:19.3px">physical</tspan></text>
<text transform="translate(30.8,279.6) rotate(-90)" style="font-family:'Liberation Serif',serif;fill:#000;text-rendering:geometricPrecision;font-size:27px">f<tspan dx="2.4" dy="12" style="font-size:19.3px">+</tspan><tspan dy="-12"> (q</tspan><tspan dy="-17" style="font-size:19.3px">2</tspan><tspan dy="17" style="stroke:#000;stroke-width:0.5px">=</tspan><tspan>0)</tspan></text>
<text x="453" y="336.7" style="font-family:'Liberation Serif',serif;font-weight:bold;font-size:26.3px;fill:#670748;text-rendering:geometricPrecision">Preliminary</text>
</svg>
</div></body></html>
